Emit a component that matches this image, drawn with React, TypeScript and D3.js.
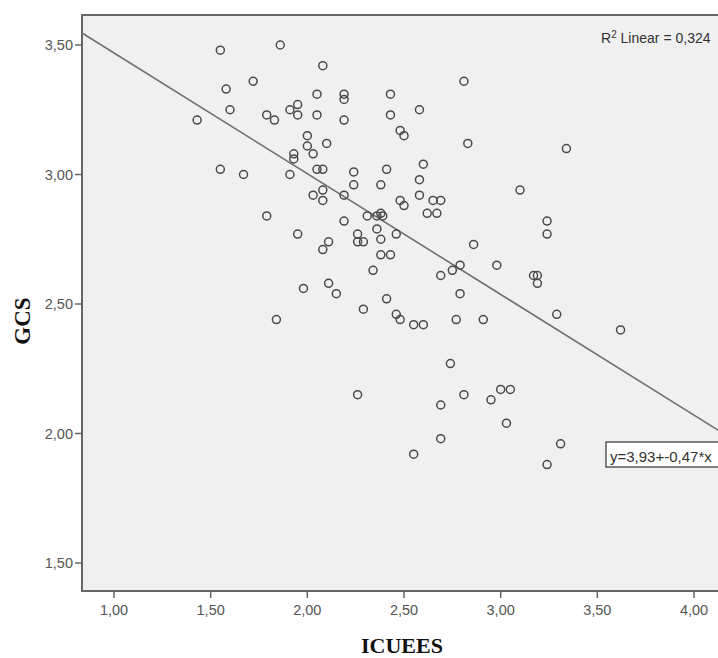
import React from "react";
import * as d3 from "d3";

const xTicks = [1.0, 1.5, 2.0, 2.5, 3.0, 3.5, 4.0];
const yTicks = [1.5, 2.0, 2.5, 3.0, 3.5];

const icuees = [
  1.43, 1.55, 1.58, 1.6, 1.72, 1.86, 1.55, 1.67, 1.79, 1.83,
  1.91, 1.95, 1.95, 2.05, 2.05, 2.08, 2.19, 2.19, 2.19, 2.0,
  2.0, 2.03, 2.1, 1.93, 1.93, 1.91, 2.05, 2.08, 2.03, 2.08,
  2.08, 2.19, 2.24, 2.24, 1.79, 1.95, 2.08, 2.11, 1.98, 2.11,
  2.15, 1.84, 2.19, 2.26, 2.26, 2.29, 2.38, 2.26, 2.81, 2.43,
  2.43, 2.58, 2.48, 2.5, 2.83, 3.34, 2.41, 2.6, 2.38, 2.58,
  2.58, 2.48, 2.5, 2.62, 2.67, 2.65, 2.69, 3.1, 3.24, 3.24,
  2.31, 2.36, 2.38, 2.36, 2.46, 2.38, 2.43, 2.34, 2.86, 2.69,
  2.75, 2.79, 2.98, 2.79, 3.17, 3.19, 3.19, 2.41, 2.29, 2.46,
  2.48, 2.55, 2.6, 2.77, 2.91, 3.29, 3.62, 2.74, 2.69, 2.81,
  2.95, 3.0, 3.05, 3.03, 2.69, 2.55, 3.31, 3.24, 2.39
];

const gcs = [
  3.21, 3.48, 3.33, 3.25, 3.36, 3.5, 3.02, 3.0, 3.23, 3.21,
  3.25, 3.27, 3.23, 3.31, 3.23, 3.42, 3.31, 3.29, 3.21, 3.15,
  3.11, 3.08, 3.12, 3.08, 3.06, 3.0, 3.02, 3.02, 2.92, 2.94,
  2.9, 2.92, 3.01, 2.96, 2.84, 2.77, 2.71, 2.74, 2.56, 2.58,
  2.54, 2.44, 2.82, 2.77, 2.74, 2.74, 2.75, 2.15, 3.36, 3.31,
  3.23, 3.25, 3.17, 3.15, 3.12, 3.1, 3.02, 3.04, 2.96, 2.98,
  2.92, 2.9, 2.88, 2.85, 2.85, 2.9, 2.9, 2.94, 2.82, 2.77,
  2.84, 2.84, 2.85, 2.79, 2.77, 2.69, 2.69, 2.63, 2.73, 2.61,
  2.63, 2.65, 2.65, 2.54, 2.61, 2.61, 2.58, 2.52, 2.48, 2.46,
  2.44, 2.42, 2.42, 2.44, 2.44, 2.46, 2.4, 2.27, 2.11, 2.15,
  2.13, 2.17, 2.17, 2.04, 1.98, 1.92, 1.96, 1.88, 2.84
];

const INTERCEPT = 3.935;
const SLOPE = -0.466;
const EQUATION = "y=3,93+-0,47*x";
const R2 = "0,324";

const W = 718;
const H = 658;
const plotLeft = 82;
const plotTop = 15;
const plotBottom = 591;
const plotRight = 760;

const fmt = (v: number) => v.toFixed(2).replace(".", ",");

export default function App() {
  const x = d3.scaleLinear().domain([1, 4]).range([114, 694]);
  const y = d3.scaleLinear().domain([1.5, 3.5]).range([563, 45]);

  const x0 = x.invert(plotLeft);
  const x1 = x.invert(plotRight);
  const line = d3
    .line<number>()
    .x((d) => x(d))
    .y((d) => y(INTERCEPT + SLOPE * d));

  const axisColor = "#666";
  const tickText = "#555";
  const sans = "Liberation Sans, Arial, sans-serif";
  const serif = "Liberation Serif, Times New Roman, serif";

  return (
    <svg
      width={W}
      height={H}
      style={{ position: "absolute", left: 0, top: 0, background: "#fff" }}
    >
      <defs>
        <clipPath id="plotClip">
          <rect x={plotLeft} y={plotTop} width={plotRight - plotLeft} height={plotBottom - plotTop} />
        </clipPath>
      </defs>
      <rect x={0} y={0} width={W} height={H} fill="#fff" />
      <rect
        x={plotLeft}
        y={plotTop}
        width={plotRight - plotLeft}
        height={plotBottom - plotTop}
        fill="#f0f0f0"
        stroke={axisColor}
        strokeWidth={2}
      />
      <g clipPath="url(#plotClip)">
        <path d={line([x0, x1]) || ""} stroke="#6e6e6e" strokeWidth={1.6} fill="none" />
        {icuees.map((v, i) => (
          <circle
            key={i}
            cx={x(v)}
            cy={y(gcs[i])}
            r={4}
            fill="none"
            stroke="#4a4a4a"
            strokeWidth={1.5}
          />
        ))}
      </g>
      {yTicks.map((t) => (
        <g key={"y" + t}>
          <line x1={plotLeft - 7} x2={plotLeft} y1={y(t)} y2={y(t)} stroke={axisColor} strokeWidth={1.5} />
          <text
            x={plotLeft - 9}
            y={y(t)}
            dy="0.35em"
            textAnchor="end"
            fontFamily={sans}
            fontSize={14.5}
            fill={tickText}
          >
            {fmt(t)}
          </text>
        </g>
      ))}
      {xTicks.map((t) => (
        <g key={"x" + t}>
          <line x1={x(t)} x2={x(t)} y1={plotBottom} y2={plotBottom + 7} stroke={axisColor} strokeWidth={1.5} />
          <text
            x={x(t)}
            y={610}
            dy="0.35em"
            textAnchor="middle"
            fontFamily={sans}
            fontSize={14.5}
            fill={tickText}
          >
            {fmt(t)}
          </text>
        </g>
      ))}
      <text
        transform={`translate(30, 321) rotate(-90)`}
        textAnchor="middle"
        fontFamily={serif}
        fontWeight="bold"
        fontSize={23}
        fill="#111"
      >
        GCS
      </text>
      <text
        x={402}
        y={653}
        textAnchor="middle"
        fontFamily={serif}
        fontWeight="bold"
        fontSize={22}
        fill="#111"
      >
        ICUEES
      </text>
      <text x={601} y={43} fontFamily={sans} fontSize={14} fill="#333">
        R<tspan dy={-5} fontSize={10}>2</tspan>
        <tspan dy={5}> Linear = {R2}</tspan>
      </text>
      <rect x={606} y={442} width={140} height={25} fill="#fff" stroke="#333" strokeWidth={1.2} />
      <text x={610} y={462} fontFamily={sans} fontSize={15} fill="#333">
        {EQUATION}
      </text>
    </svg>
  );
}
